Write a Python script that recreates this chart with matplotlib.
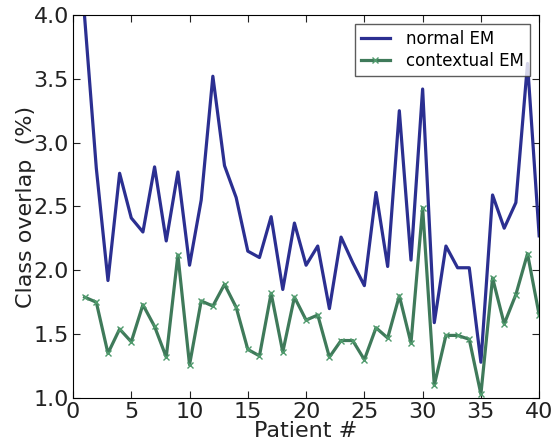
import matplotlib
matplotlib.use("Agg")
import matplotlib.pyplot as plt

patients = list(range(1, 41))
normal_em = [3.98, 2.80, 1.92, 2.76, 2.41, 2.30, 2.81, 2.23, 2.77, 2.04,
             2.55, 3.52, 2.82, 2.57, 2.15, 2.10, 2.42, 1.85, 2.37, 2.04,
             2.19, 1.70, 2.26, 2.06, 1.88, 2.61, 2.03, 3.25, 2.08, 3.42,
             1.59, 2.19, 2.02, 2.02, 1.28, 2.59, 2.33, 2.53, 3.62, 2.27]
contextual_em = [1.79, 1.75, 1.35, 1.54, 1.44, 1.73, 1.56, 1.32, 2.12, 1.26,
                 1.76, 1.72, 1.89, 1.71, 1.38, 1.33, 1.82, 1.36, 1.79, 1.61,
                 1.65, 1.32, 1.45, 1.45, 1.30, 1.55, 1.47, 1.80, 1.43, 2.49,
                 1.10, 1.49, 1.49, 1.46, 1.03, 1.94, 1.58, 1.81, 2.13, 1.65]

fig = plt.figure(figsize=(5.53, 4.4), dpi=100)
ax = fig.add_axes([0.132, 0.0955, 0.843, 0.8705])

ax.plot(patients, normal_em, color="#2b2f91", lw=2.3, label="normal EM")
ax.plot(patients, contextual_em, color="#3f7a5a", lw=2.3, marker="x",
        ms=5, mew=1, mec="#4f9a6c", label="contextual EM")

ax.set_xlim(0, 40)
ax.set_ylim(1.0, 4.0)
ax.set_xticks(range(0, 41, 5))
ax.set_yticks([1.0, 1.5, 2.0, 2.5, 3.0, 3.5, 4.0])
ax.tick_params(direction="in", top=True, right=True, labelsize=16,
               length=5, pad=3, colors="#222222")
ax.set_xlabel("Patient #", fontsize=16, labelpad=-1, color="#222222")
ax.set_ylabel("Class overlap  (%)", fontsize=16, labelpad=-2, color="#222222")

leg = ax.legend(loc="upper right", fontsize=12, fancybox=False,
                borderaxespad=0.55, handlelength=1.7, handletextpad=1.0,
                labelspacing=0.25, borderpad=0.35)
leg.get_frame().set_edgecolor("#333333")
leg.get_frame().set_linewidth(1.0)

fig.savefig("out.png", dpi=100)
